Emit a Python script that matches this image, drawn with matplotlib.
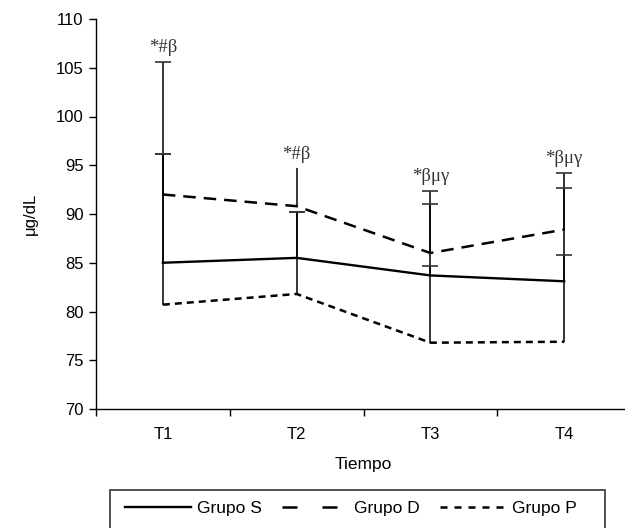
import matplotlib
matplotlib.use('Agg')
import matplotlib.pyplot as plt
import numpy as np
from matplotlib.patches import Rectangle
from matplotlib.lines import Line2D

# ---------------- data ----------------
categories = ['T1', 'T2', 'T3', 'T4']
grupo_s = [85.0, 85.5, 83.7, 83.1]
grupo_d = [92.0, 90.8, 86.0, 88.4]
grupo_p = [80.7, 81.8, 76.8, 76.9]
# upper ends of the (plus-only) error bars
top_s = [96.2, 90.2, 91.0, 92.7]
top_d = [105.6, 94.7, 92.4, 94.2]
top_p = [96.2, 90.2, 84.7, 85.8]
cap_d_shown = [True, False, True, True]
sig_labels = ['*#β', '*#β', '*βμγ', '*βμγ']
yticks = [70, 75, 80, 85, 90, 95, 100, 105, 110]
series_names = ['Grupo S', 'Grupo D', 'Grupo P']

plt.rcParams['font.family'] = ['Liberation Sans', 'DejaVu Sans']

W, H = 625, 528
fig = plt.figure(figsize=(W / 100, H / 100), dpi=100)
ax = fig.add_axes([96 / W, (H - 409) / H, (631 - 96) / W, (409 - 19) / H])

x = np.arange(1, len(categories) + 1)

lw = 1.8
styles = [
    dict(linestyle='-', lw=1.7),
    dict(linestyle=(0, (5, 3.2)), lw=lw),
    dict(linestyle=(0, (2.8, 2.0)), lw=lw),
]
vals = [grupo_s, grupo_d, grupo_p]
tops = [top_s, top_d, top_p]

# error bars (upward only)
for v, t in zip(vals, tops):
    v = np.array(v); t = np.array(t)
    ax.errorbar(x, v, yerr=[np.zeros_like(v), t - v], fmt='none',
                ecolor='black', elinewidth=1.1, capsize=0, zorder=2)

# caps
for i, t in enumerate(tops):
    t = np.array(t)
    mask = np.ones(len(t), bool) if i != 1 else np.array(cap_d_shown)
    ax.plot(x[mask], t[mask], ls='none', marker='_', markersize=12,
            mew=1.2, color='#333333', zorder=2)

# series lines
for v, st in zip(vals, styles):
    ax.plot(x, v, color='black', zorder=3, **st)

# significance labels
for xi, lab, a, b, c in zip(x, sig_labels, top_s, top_d, top_p):
    ax.annotate(lab, (xi, max(a, b, c)), xytext=(0, 4), textcoords='offset points',
                ha='center', va='bottom', fontsize=13.5, color='#333333',
                family=['Liberation Serif', 'DejaVu Serif'])

ax.set_xlim(0.5, len(categories) + 0.5)
ax.set_ylim(70, 110)
ax.set_yticks(yticks)
ax.set_yticklabels([str(t) for t in yticks])
ax.set_xticks(np.arange(0.5, len(categories) + 1, 1.0))
ax.set_xticklabels([])
ax.set_xticks(x, minor=True)
ax.set_xticklabels(categories, minor=True)
ax.tick_params(axis='x', which='major', direction='out', length=5, width=1)
ax.tick_params(axis='x', which='minor', length=0, pad=13, labelsize=12)
ax.tick_params(axis='y', direction='out', length=5, width=1, pad=4, labelsize=12)
for s in ['top', 'right']:
    ax.spines[s].set_visible(False)
for s in ['left', 'bottom']:
    ax.spines[s].set_linewidth(1.0)

fig.text(30 / W, 1 - 214 / H, 'μg/dL', rotation=90, ha='center', va='center', fontsize=12)
fig.text(363 / W, 1 - 465 / H, 'Tiempo', ha='center', va='center', fontsize=12.5)

# legend with a frame running past the bottom edge
fig.patches.append(Rectangle((110 / W, -0.05), (605 - 110) / W, 0.05 + (H - 490) / H,
                             transform=fig.transFigure, fill=False, edgecolor='#333333',
                             lw=1.2))
handles = [
    Line2D([], [], color='black', linestyle='-', lw=1.7),
    Line2D([], [], color='black', linestyle=(0, (6, 10)), lw=lw),
    Line2D([], [], color='black', linestyle=(0, (2.8, 2.8)), lw=lw),
]
fig.legend(handles, series_names, loc='center left', bbox_to_anchor=(125 / W, 1 - 508 / H),
           ncol=3, frameon=False, handlelength=3.8, handletextpad=0.35,
           columnspacing=1.15, fontsize=12.5, borderpad=0, borderaxespad=0)

fig.savefig('out.png', dpi=100)
